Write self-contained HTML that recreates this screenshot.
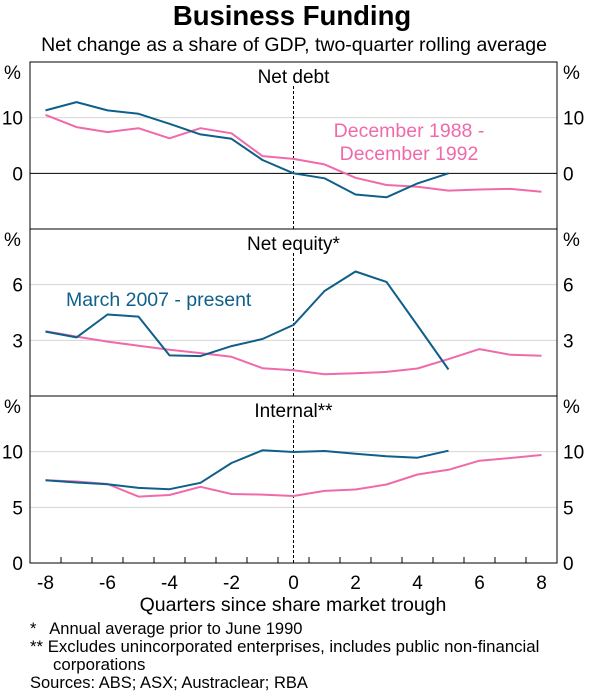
<!DOCTYPE html>
<html><head><meta charset="utf-8"><style>
body{margin:0;background:#fff;}
svg text{font-family:"Liberation Sans",Arial,sans-serif;fill:#000;}
</style></head><body>
<svg id="c" width="600" height="693" xmlns="http://www.w3.org/2000/svg">
<text x="292" y="25" text-anchor="middle" font-size="27.5" font-weight="bold">Business Funding</text>
<text x="294" y="51" text-anchor="middle" font-size="19.5">Net change as a share of GDP, two-quarter rolling average</text>
<text x="293" y="611" text-anchor="middle" font-size="19.5">Quarters since share market trough</text>
<text x="30" y="634" font-size="16.5" xml:space="preserve">*   Annual average prior to June 1990</text>
<text x="30" y="652" font-size="16.8">** Excludes unincorporated enterprises, includes public non-financial</text>
<text x="53" y="670" font-size="16.8">corporations</text>
<text x="30" y="688" font-size="16.5">Sources: ABS; ASX; Austraclear; RBA</text>
</svg>
<script>
const quarters=[-8,-7,-6,-5,-4,-3,-2,-1,0,1,2,3,4,5,6,7,8];
const debtBlue=[11.3,12.8,11.3,10.7,8.9,7.0,6.2,2.4,0,-0.9,-3.8,-4.3,-1.8,0];
const debtPink=[10.5,8.3,7.4,8.1,6.3,8.1,7.2,3.1,2.6,1.6,-0.8,-2.1,-2.4,-3.1,-2.9,-2.8,-3.3];
const equityBlue=[3.47,3.16,4.39,4.28,2.19,2.15,2.69,3.07,3.83,5.66,6.71,6.15,3.8,1.43];
const equityPink=[3.49,3.2,2.93,2.71,2.49,2.31,2.11,1.5,1.39,1.17,1.23,1.3,1.48,1.99,2.53,2.22,2.17];
const internalBlue=[7.44,7.23,7.08,6.75,6.63,7.2,8.98,10.12,9.97,10.06,9.82,9.58,9.46,10.09];
const internalPink=[7.44,7.32,7.1,5.96,6.11,6.84,6.2,6.14,6.02,6.48,6.6,7.05,7.95,8.37,9.19,9.43,9.7];
const xTicks=[-8,-6,-4,-2,0,2,4,6,8];
const debtTicks=[0,10];const equityTicks=[3,6];const internalTicks=[0,5,10];
const NS="http://www.w3.org/2000/svg",svg=document.getElementById('c');
const L=30,R=557,xmin=-8.5,xmax=8.5;
const X=v=>L+(v-xmin)/(xmax-xmin)*(R-L);
function el(t,a,txt){const e=document.createElementNS(NS,t);for(const k in a)e.setAttribute(k,a[k]);if(txt!=null)e.textContent=txt;svg.appendChild(e);return e;}
const BLUE="#0f5f8b",PINK="#f06aab";
const FS=19;
const panels=[
 {name:'net-debt',top:62,bot:229,min:-10,max:20,ticks:debtTicks,title:'Net debt',b:debtBlue,p:debtPink,zero:true},
 {name:'net-equity',top:229,bot:396,min:0,max:9,ticks:equityTicks,title:'Net equity*',b:equityBlue,p:equityPink},
 {name:'internal',top:396,bot:563,min:0,max:15,ticks:internalTicks,title:'Internal**',b:internalBlue,p:internalPink}
];
panels.forEach(pn=>{
 const Y=v=>pn.bot-(v-pn.min)/(pn.max-pn.min)*(pn.bot-pn.top);
 pn.ticks.forEach(t=>{
  if(t!==0||pn.zero){const g=el('line',{x1:L,x2:R,y1:Y(t),y2:Y(t),stroke:t===0?'#000':'#d4d4d4','stroke-width':1});
  }
  const a=el('text',{x:23,y:Y(t)+7,'text-anchor':'end','font-size':FS},String(t));
  
  const b=el('text',{x:563,y:Y(t)+7,'font-size':FS},String(t));
  
 });
 const u1=el('text',{x:4,y:pn.top+17,'font-size':FS},'%');
 const u2=el('text',{x:563,y:pn.top+17,'font-size':FS},'%');
 const ti=el('line',{x1:X(0),x2:X(0),y1:pn.top+24,y2:pn.bot,stroke:'#000','stroke-dasharray':'3,2','stroke-width':1});
 
 const t=el('text',{x:X(0),y:pn.top+21,'text-anchor':'middle','font-size':FS},pn.title);
 
 [[pn.p,PINK,'pink'],[pn.b,BLUE,'blue']].forEach(([d,c,n])=>{
  const pts=d.map((v,i)=>X(quarters[i]).toFixed(1)+','+Y(v).toFixed(1)).join(' ');
  const pl=el('polyline',{points:pts,fill:'none',stroke:c,'stroke-width':2,'stroke-linejoin':'round'});
  
  
 });
 const fr=el('rect',{x:L,y:pn.top,width:R-L,height:pn.bot-pn.top,fill:'none',stroke:'#000','stroke-width':1});
 
});
for(let q=-7.5;q<=7.5;q+=1){const tk=el('line',{x1:X(q),x2:X(q),y1:563,y2:557,stroke:'#000'});
 }
xTicks.forEach(v=>{const t=el('text',{x:X(v),y:589,'text-anchor':'middle','font-size':FS},String(v));
 });
const l1=el('text',{x:409,y:137,'text-anchor':'middle','font-size':19.5},'December 1988 -');
l1.style.fill=PINK;
const l2=el('text',{x:409,y:160,'text-anchor':'middle','font-size':19.5},'December 1992');
l2.style.fill=PINK;
const l3=el('text',{x:66,y:306,'font-size':19.5},'March 2007 - present');
l3.style.fill=BLUE;
</script>
</body></html>
